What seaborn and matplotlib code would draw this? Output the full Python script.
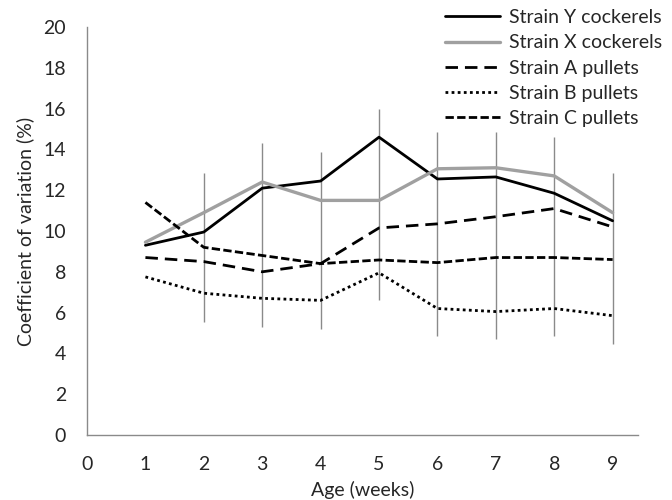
import matplotlib
matplotlib.use("Agg")
import matplotlib.pyplot as plt
import pandas as pd
import seaborn as sns

weeks = [1, 2, 3, 4, 5, 6, 7, 8, 9]
strain_y = [9.3, 9.95, 12.1, 12.45, 14.6, 12.55, 12.65, 11.85, 10.5]
strain_x = [9.45, 10.9, 12.4, 11.5, 11.5, 13.05, 13.1, 12.7, 10.9]
strain_a = [8.7, 8.5, 8.0, 8.4, 10.15, 10.35, 10.7, 11.1, 10.2]
strain_b = [7.75, 6.95, 6.7, 6.6, 7.95, 6.2, 6.05, 6.2, 5.85]
strain_c = [11.4, 9.2, 8.8, 8.4, 8.58, 8.45, 8.7, 8.7, 8.6]
labels = ["Strain Y cockerels", "Strain X cockerels", "Strain A pullets",
          "Strain B pullets", "Strain C pullets"]

# range bars (grey vertical lines)
err_weeks = [2, 3, 4, 5, 6, 7, 8, 9]
err_high = [12.85, 14.3, 13.85, 16.0, 14.85, 14.85, 14.6, 12.85]
err_low = [5.55, 5.3, 5.2, 6.6, 4.85, 4.7, 4.85, 4.45]

series = [strain_y, strain_x, strain_a, strain_b, strain_c]
df = pd.concat([pd.DataFrame({"week": weeks, "cv": s, "strain": lab})
                for s, lab in zip(series, labels)], ignore_index=True)

sns.set_style("white")
plt.rcParams["font.family"] = ["Lato", "DejaVu Sans"]

fig = plt.figure(figsize=(6.72, 5), dpi=100)
ax = fig.add_axes([0.1295, 0.13, 0.8195, 0.816])

ax.vlines(err_weeks, err_low, err_high, color="#8a8a8a", lw=1.0, zorder=1)

widths = [2.0, 2.4, 2.0, 2.0, 2.0]
palette = dict(zip(labels, ["black", "#a0a0a0", "black", "black", "black"]))
dashes = dict(zip(labels, ["", "", (4.5, 2.5), (1, 1.2), (3, 1.2)]))
sns.lineplot(data=df, x="week", y="cv", hue="strain", style="strain",
             palette=palette, dashes=dashes, ax=ax, zorder=3)
for line, lw in zip(ax.get_lines(), widths):
    line.set_linewidth(lw)

ax.set_xlim(0, 9.43)
ax.set_ylim(0, 20)
ax.set_xticks(range(0, 10))
ax.set_yticks(range(0, 21, 2))
ax.tick_params(axis="both", length=0, pad=15, labelsize=14)
for side in ["top", "right"]:
    ax.spines[side].set_visible(False)
for side in ["left", "bottom"]:
    ax.spines[side].set_color("#8a8a8a")
    ax.spines[side].set_linewidth(1.0)

ax.set_xlabel("Age (weeks)", fontsize=14, labelpad=6)
ax.set_ylabel("Coefficient of variation (%)", fontsize=14, labelpad=7)

handles, labs = ax.get_legend_handles_labels()
for h, lw in zip(handles, widths):
    h.set_linewidth(lw)
ax.legend(handles, labs, loc="upper right", bbox_to_anchor=(1.003, 1.005),
          bbox_transform=fig.transFigure, frameon=False, fontsize=14,
          handlelength=2.8, handletextpad=0.5, labelspacing=0.42,
          borderaxespad=0.2)

fig.savefig("out.png", dpi=100)
